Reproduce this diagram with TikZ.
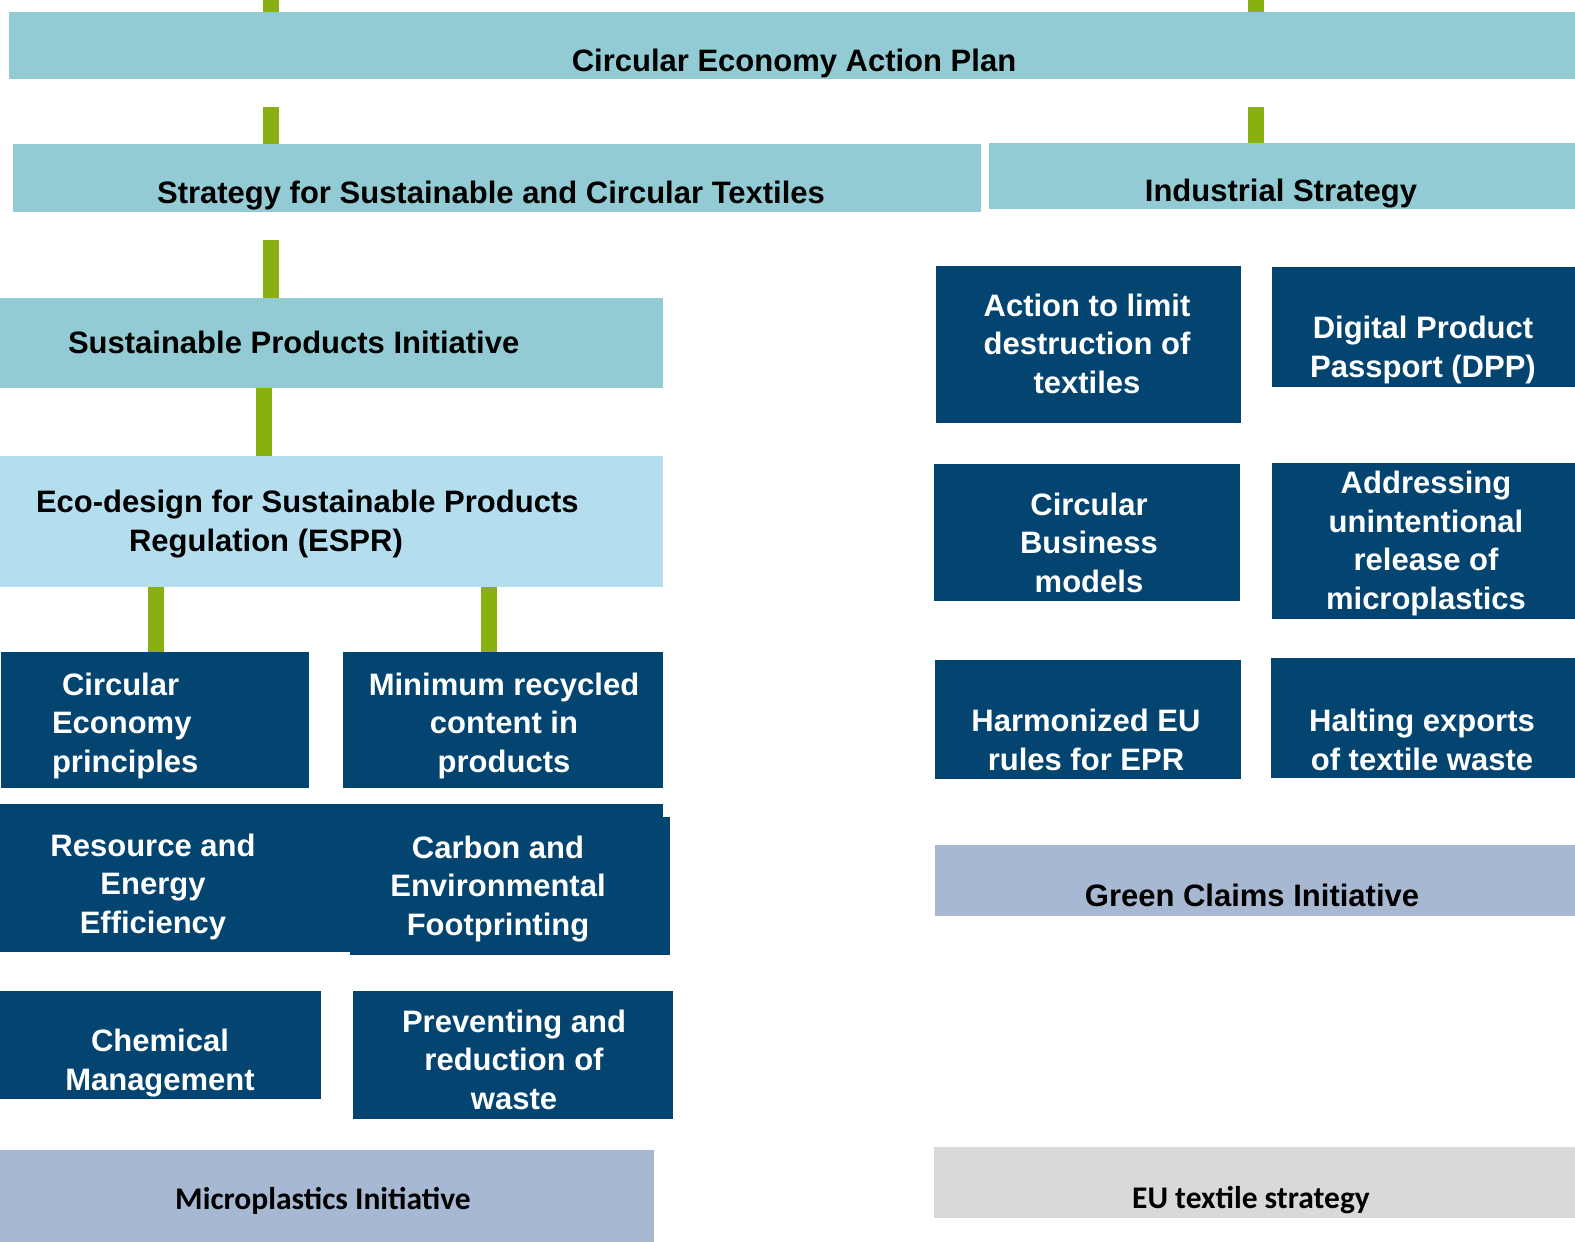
\documentclass[tikz,border=0pt]{standalone}
\usepackage{fontspec}
\setmainfont{Liberation Sans}
\newfontfamily\calfont{Carlito}
\usepackage{tikz}
\usetikzlibrary{positioning}
\definecolor{planteal}{RGB}{146,203,211}
\definecolor{esprblue}{RGB}{180,221,238}
\definecolor{actnavy}{RGB}{3,69,112}
\definecolor{inigrey}{RGB}{167,184,210}
\definecolor{stratgrey}{RGB}{217,217,217}
\definecolor{linkgreen}{RGB}{138,175,17}

\begin{document}
\begin{tikzpicture}[
          x=1pt,y=-1pt,
          every node/.style={inner sep=0pt,outer sep=0pt},
          blocknode/.style={anchor=north west,rectangle},
          plannode/.style={blocknode,fill=planteal},
          actnode/.style={blocknode,fill=actnavy},
          ininode/.style={blocknode,fill=inigrey},
          darktext/.style={anchor=base,align=center,text=black,
            font=\bfseries\fontsize{31}{38.5}\selectfont},
          lighttext/.style={darktext,text=white},
          caltext/.style={anchor=base,text=black,
            font=\calfont\bfseries\fontsize{31.5}{36}\selectfont},
          link/.style={draw=linkgreen,line width=16pt}
          ]
          \useasboundingbox (0,0) rectangle (1575,1242);

          % the plan and the two strategies
          \node[plannode,minimum width=1566,minimum height=67] (ceap) at (9,12) {};
          \node[plannode,minimum width=968,minimum height=68] (sct) at (13,144) {};
          \node[plannode,minimum width=586,minimum height=66] (ind) at (989,143) {};
          \node[darktext] (ceapt) at (794,71) {Circular Economy Action Plan};
          \node[darktext] (sctt) at (491,203) {Strategy for Sustainable and Circular Textiles};
          \node[darktext] (indt) at (1281,201) {Industrial Strategy};

          % products initiative and ESPR
          \node[plannode,minimum width=663,minimum height=90] (spi) at (0,298) {};
          \node[blocknode,fill=esprblue,minimum width=663,minimum height=131] (espr) at (0,456) {};
          \node[darktext,anchor=base west] (spit) at (68,353) {Sustainable Products Initiative};
          \node[darktext,anchor=base west,align=left] (esprt) at (36,551)
            {Eco-design for Sustainable Products\\\hspace*{93pt}Regulation (ESPR)};

          % the ESPR measures (text anchored on its last line)
          \node[actnode,minimum width=308,minimum height=136] (cep) at (1,652) {};
          \node[actnode,minimum width=320,minimum height=136] (minrec) at (343,652) {};
          \node[actnode,minimum width=663,minimum height=148] (res) at (0,804) {};
          \node[actnode,minimum width=320,minimum height=138] (carb) at (350,817) {};
          \node[actnode,minimum width=321,minimum height=108] (chem) at (0,991) {};
          \node[actnode,minimum width=320,minimum height=128] (prev) at (353,991) {};
          \node[lighttext,anchor=base west,align=left] (cept) at (52,772)
            {\hspace*{10pt}Circular\\Economy\\principles};
          \node[lighttext] (minrect) at (504,772) {Minimum recycled\\content in\\products};
          \node[lighttext] (rest) at (153,933) {Resource and\\Energy\\Efficiency};
          \node[lighttext] (carbt) at (498,935) {Carbon and\\Environmental\\Footprinting};
          \node[lighttext] (chemt) at (160,1090) {Chemical\\Management};
          \node[lighttext] (prevt) at (514,1109) {Preventing and\\reduction of\\waste};

          % industrial actions
          \node[actnode,minimum width=305,minimum height=157] (act) at (936,266) {};
          \node[actnode,minimum width=303,minimum height=120] (dpp) at (1272,267) {};
          \node[actnode,minimum width=306,minimum height=137] (cbm) at (934,464) {};
          \node[actnode,minimum width=303,minimum height=156] (addr) at (1272,463) {};
          \node[actnode,minimum width=306,minimum height=119] (harm) at (935,660) {};
          \node[actnode,minimum width=304,minimum height=120] (halt) at (1271,658) {};
          \node[lighttext] (actt) at (1087,393) {Action to limit\\destruction of\\textiles};
          \node[lighttext] (dppt) at (1423,377) {Digital Product\\Passport (DPP)};
          \node[lighttext] (cbmt) at (1089,592) {Circular\\Business\\models};
          \node[lighttext] (addrt) at (1426,609) {Addressing\\unintentional\\release of\\microplastics};
          \node[lighttext] (harmt) at (1086,770) {Harmonized EU\\rules for EPR};
          \node[lighttext] (haltt) at (1422,770) {Halting exports\\of textile waste};

          % the initiatives at the bottom
          \node[ininode,minimum width=640,minimum height=71] (green) at (935,845) {};
          \node[darktext] (greent) at (1252,906) {Green Claims Initiative};
          \node[ininode,minimum width=654,minimum height=92] (micro) at (0,1150) {};
          \node[caltext] (microt) at (323,1209) {Microplastics Initiative};
          \node[blocknode,fill=stratgrey,minimum width=641,minimum height=71] (eu) at (934,1147) {};
          \node[caltext] (eut) at (1251,1208) {EU textile strategy};

          % the links
          \coordinate (topl) at (271,0);
          \coordinate (topr) at (1256,0);
          \coordinate (spil) at (264,0);
          \coordinate (cepl) at (156,0);
          \coordinate (minl) at (489,0);
          \draw[link] (topl) -- (topl |- ceap.north);
          \draw[link] (topr) -- (topr |- ceap.north);
          \draw[link,shorten <=28pt] (topl |- ceap.south) -- (topl |- sct.north);
          \draw[link,shorten <=28pt] (topr |- ceap.south) -- (topr |- ind.north);
          \draw[link,shorten <=28pt] (topl |- sct.south) -- (topl |- spi.north);
          \draw[link] (spil |- spi.south) -- (spil |- espr.north);
          \draw[link] (cepl |- espr.south) -- (cepl |- cep.north);
          \draw[link] (minl |- espr.south) -- (minl |- minrec.north);
        \end{tikzpicture}
\end{document}
